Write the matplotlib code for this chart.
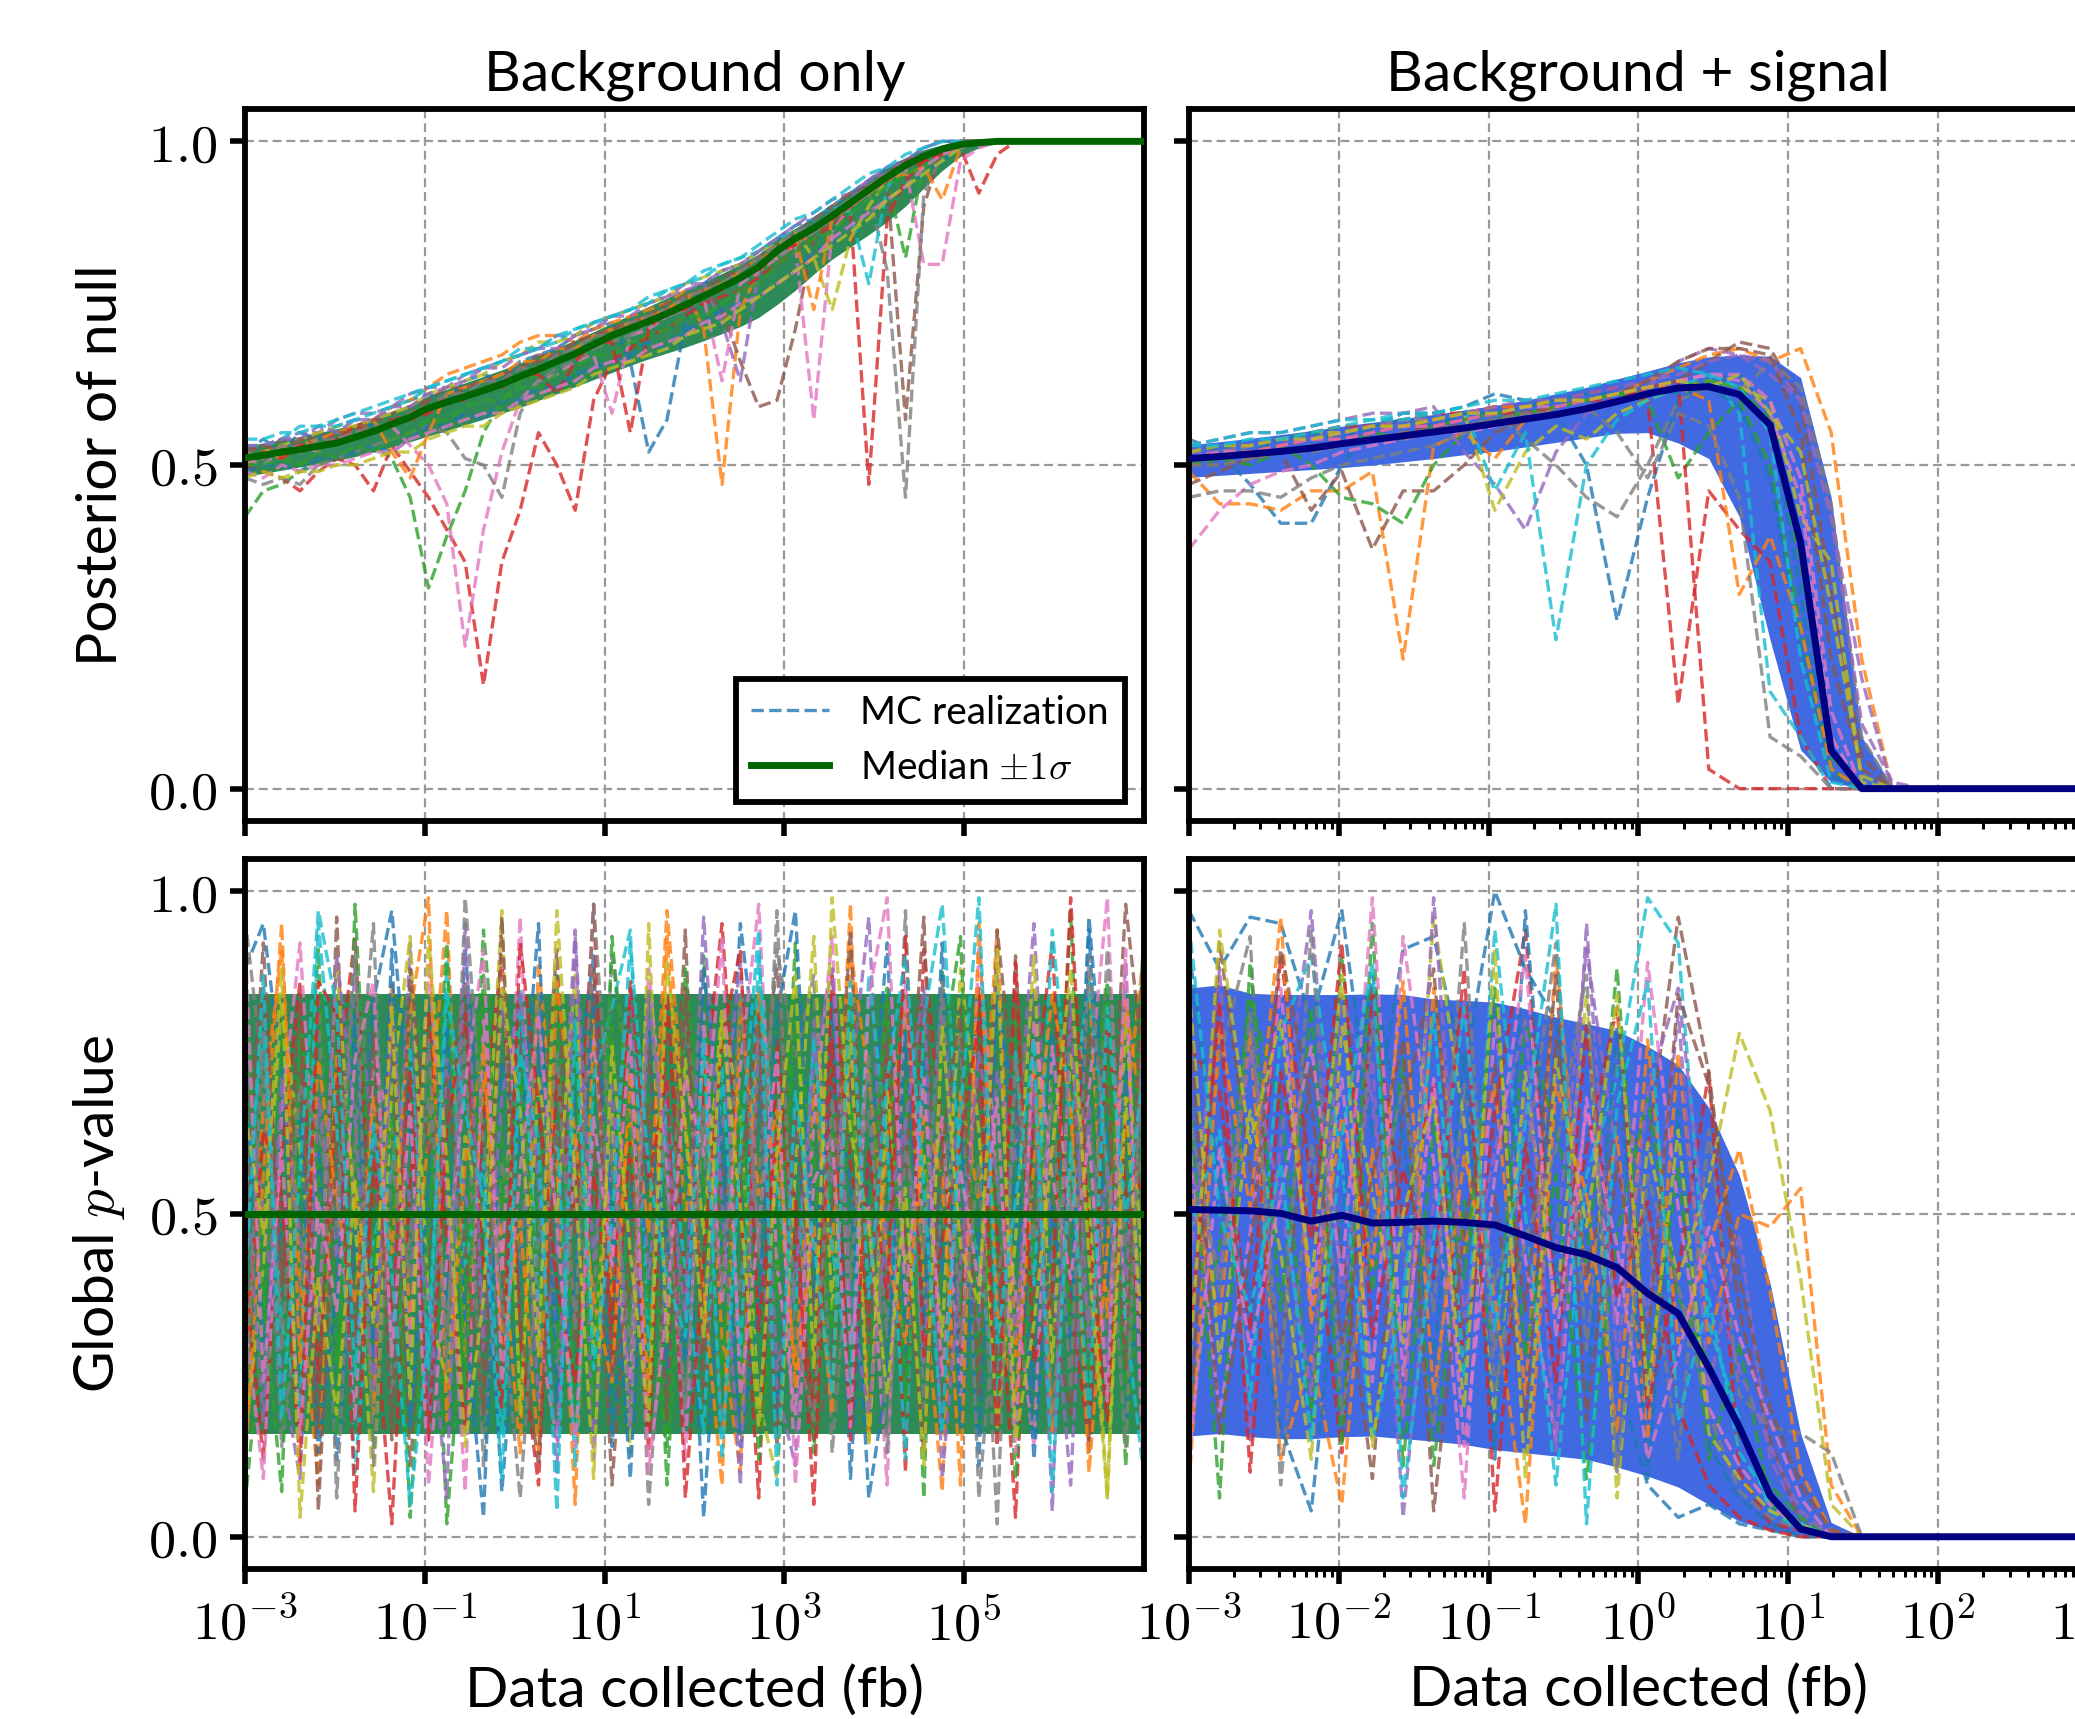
import numpy as np
import matplotlib
matplotlib.use("Agg")
import matplotlib.pyplot as plt
from matplotlib.lines import Line2D
from matplotlib.ticker import FixedLocator, LogLocator, NullLocator, FuncFormatter

# ---------------- data ----------------
# exposure grid, log10(fb)
log10_data = [-3.000, -2.796, -2.592, -2.388, -2.184, -1.980, -1.776, -1.571, -1.367, -1.163,
              -0.959, -0.755, -0.551, -0.347, -0.143, 0.061, 0.265, 0.469, 0.673, 0.878,
              1.082, 1.286, 1.490, 1.694, 1.898, 2.102, 2.306, 2.510, 2.714, 2.918,
              3.122, 3.327, 3.531, 3.735, 3.939, 4.143, 4.347, 4.551, 4.755, 4.959,
              5.163, 5.367, 5.571, 5.776, 5.980, 6.184, 6.388, 6.592, 6.796, 7.000]

# --- Background only: posterior of null ---
bg_post_median = [0.511, 0.515, 0.520, 0.524, 0.529, 0.534, 0.543, 0.552, 0.563, 0.574,
                  0.588, 0.597, 0.606, 0.615, 0.625, 0.637, 0.648, 0.660, 0.672, 0.686,
                  0.700, 0.711, 0.722, 0.734, 0.747, 0.761, 0.775, 0.789, 0.806, 0.831,
                  0.850, 0.866, 0.885, 0.905, 0.925, 0.945, 0.963, 0.977, 0.988, 0.995,
                  0.998, 1.0, 1.0, 1.0, 1.0, 1.0, 1.0, 1.0, 1.0, 1.0]
bg_post_upper = [0.529, 0.534, 0.539, 0.544, 0.550, 0.556, 0.563, 0.572, 0.582, 0.594,
                 0.607, 0.617, 0.627, 0.637, 0.647, 0.658, 0.669, 0.681, 0.693, 0.706,
                 0.719, 0.732, 0.745, 0.758, 0.771, 0.783, 0.796, 0.810, 0.826, 0.850,
                 0.866, 0.882, 0.900, 0.921, 0.942, 0.960, 0.975, 0.987, 0.995, 0.999,
                 1.0, 1.0, 1.0, 1.0, 1.0, 1.0, 1.0, 1.0, 1.0, 1.0]
bg_post_lower = [0.483, 0.487, 0.492, 0.497, 0.502, 0.507, 0.513, 0.520, 0.528, 0.536,
                 0.545, 0.553, 0.562, 0.571, 0.580, 0.589, 0.600, 0.610, 0.621, 0.632,
                 0.643, 0.654, 0.664, 0.673, 0.682, 0.692, 0.703, 0.714, 0.728, 0.748,
                 0.770, 0.795, 0.818, 0.837, 0.856, 0.876, 0.900, 0.928, 0.955, 0.977,
                 0.990, 0.997, 1.0, 1.0, 1.0, 1.0, 1.0, 1.0, 1.0, 1.0]
# MC realizations, percent
bg_post_mc = [
    [52, 54, 52, 55, 54, 56, 57, 56, 59, 60, 61, 60, 63, 64, 63, 66, 67, 68, 70, 71, 72, 66, 52, 57, 72, 78, 80, 81, 83, 85, 87, 88, 90, 92, 94, 96, 97, 99, 100, 100, 100, 100, 100, 100, 100, 100, 100, 100, 100, 100],
    [50, 52, 51, 53, 54, 55, 56, 57, 59, 60, 62, 64, 65, 66, 67, 69, 70, 70, 69, 71, 72, 73, 74, 75, 77, 71, 47, 74, 80, 82, 84, 86, 88, 90, 93, 95, 97, 98, 99, 100, 100, 100, 100, 100, 100, 100, 100, 100, 100, 100],
    [42, 46, 47, 49, 50, 51, 52, 53, 51, 45, 31, 39, 46, 55, 60, 63, 64, 66, 67, 68, 69, 71, 72, 74, 74, 76, 77, 79, 80, 82, 84, 86, 88, 90, 92, 94, 82, 97, 99, 100, 100, 100, 100, 100, 100, 100, 100, 100, 100, 100],
    [50, 49, 48, 46, 49, 51, 50, 46, 53, 49, 45, 40, 35, 16, 35, 43, 55, 50, 43, 60, 66, 68, 70, 71, 73, 75, 76, 77, 79, 81, 83, 85, 87, 89, 47, 88, 94, 97, 98, 99, 92, 98, 100, 100, 100, 100, 100, 100, 100, 100],
    [52, 53, 54, 55, 55, 57, 58, 58, 59, 61, 62, 62, 64, 65, 66, 67, 68, 70, 70, 72, 73, 74, 75, 76, 77, 78, 72, 63, 80, 83, 85, 87, 89, 91, 94, 95, 97, 98, 99, 100, 100, 100, 100, 100, 100, 100, 100, 100, 100, 100],
    [53, 52, 54, 53, 55, 54, 56, 57, 58, 59, 60, 62, 62, 63, 64, 65, 67, 67, 69, 70, 71, 72, 73, 74, 76, 77, 74, 66, 59, 60, 71, 85, 88, 90, 92, 94, 57, 90, 99, 100, 100, 100, 100, 100, 100, 100, 100, 100, 100, 100],
    [51, 50, 52, 53, 52, 54, 55, 55, 56, 53, 50, 44, 22, 40, 52, 60, 63, 64, 66, 67, 58, 70, 71, 73, 74, 76, 63, 78, 80, 82, 84, 57, 86, 90, 92, 94, 96, 81, 81, 97, 99, 100, 100, 100, 100, 100, 100, 100, 100, 100],
    [48, 47, 48, 47, 50, 51, 52, 53, 54, 55, 56, 55, 51, 50, 45, 58, 63, 65, 66, 68, 69, 70, 72, 73, 74, 76, 77, 79, 81, 82, 84, 86, 88, 90, 92, 80, 45, 92, 98, 99, 100, 100, 100, 100, 100, 100, 100, 100, 100, 100],
    [51, 52, 53, 54, 55, 56, 56, 57, 58, 59, 61, 62, 63, 64, 66, 67, 69, 69, 70, 72, 73, 74, 75, 76, 78, 79, 80, 81, 83, 84, 86, 82, 74, 85, 90, 94, 96, 98, 99, 100, 100, 100, 100, 100, 100, 100, 100, 100, 100, 100],
    [53, 53, 54, 56, 56, 57, 58, 59, 60, 61, 62, 63, 64, 65, 66, 68, 68, 70, 71, 72, 73, 74, 76, 77, 78, 80, 81, 82, 83, 85, 86, 88, 90, 89, 78, 93, 96, 98, 99, 100, 100, 100, 100, 100, 100, 100, 100, 100, 100, 100],
    [49, 50, 50, 49, 51, 51, 52, 53, 52, 54, 56, 56, 58, 57, 60, 60, 62, 62, 64, 65, 66, 67, 69, 68, 71, 72, 74, 75, 76, 78, 80, 83, 84, 87, 89, 91, 93, 95, 97, 99, 100, 100, 100, 100, 100, 100, 100, 100, 100, 100],
    [52, 51, 53, 52, 54, 55, 55, 57, 52, 48, 55, 61, 62, 63, 64, 66, 66, 68, 68, 70, 71, 72, 73, 74, 76, 77, 78, 80, 82, 83, 85, 74, 88, 90, 92, 94, 95, 96, 91, 99, 100, 100, 100, 100, 100, 100, 100, 100, 100, 100],
    [50, 50, 51, 50, 52, 51, 53, 52, 54, 55, 57, 57, 59, 60, 60, 62, 62, 64, 65, 67, 67, 69, 70, 71, 73, 73, 75, 77, 78, 81, 83, 85, 86, 89, 91, 93, 95, 96, 98, 100, 100, 100, 100, 100, 100, 100, 100, 100, 100, 100],
    [51, 52, 51, 53, 53, 54, 56, 55, 57, 57, 58, 60, 60, 62, 62, 64, 64, 61, 66, 69, 69, 55, 71, 74, 74, 76, 77, 79, 80, 83, 84, 87, 88, 90, 93, 94, 96, 97, 98, 100, 100, 100, 100, 100, 100, 100, 100, 100, 100, 100],
    [53, 53, 54, 54, 56, 55, 57, 57, 59, 59, 61, 62, 63, 65, 65, 67, 68, 68, 70, 71, 73, 73, 75, 76, 78, 78, 80, 81, 83, 85, 87, 89, 91, 92, 94, 96, 97, 99, 100, 100, 100, 100, 100, 100, 100, 100, 100, 100, 100, 100],
    [52, 53, 52, 54, 53, 55, 55, 57, 57, 58, 60, 60, 62, 63, 63, 65, 66, 67, 69, 70, 71, 72, 73, 75, 76, 77, 79, 80, 82, 84, 86, 88, 90, 92, 93, 95, 97, 98, 99, 100, 100, 100, 100, 100, 100, 100, 100, 100, 100, 100],
    [49, 48, 50, 49, 50, 50, 51, 52, 52, 54, 55, 56, 57, 58, 58, 60, 61, 62, 63, 65, 66, 66, 68, 69, 70, 72, 73, 75, 76, 78, 80, 82, 85, 87, 89, 91, 93, 96, 98, 99, 100, 100, 100, 100, 100, 100, 100, 100, 100, 100],
    [52, 51, 53, 52, 54, 54, 55, 56, 56, 58, 59, 61, 61, 63, 63, 65, 65, 67, 68, 70, 70, 72, 73, 74, 76, 77, 78, 80, 82, 84, 86, 87, 89, 91, 93, 95, 96, 98, 99, 100, 100, 100, 100, 100, 100, 100, 100, 100, 100, 100],
    [48, 49, 48, 49, 49, 50, 50, 51, 52, 52, 54, 55, 56, 56, 58, 59, 60, 61, 62, 64, 65, 66, 67, 68, 70, 71, 72, 74, 76, 78, 80, 82, 84, 86, 88, 91, 93, 95, 97, 99, 100, 100, 100, 100, 100, 100, 100, 100, 100, 100],
    [54, 54, 55, 55, 56, 56, 57, 58, 59, 60, 62, 63, 64, 65, 66, 67, 68, 69, 71, 72, 73, 74, 75, 77, 78, 79, 81, 82, 84, 86, 88, 89, 91, 93, 95, 96, 98, 99, 100, 100, 100, 100, 100, 100, 100, 100, 100, 100, 100, 100],
]

# --- Background + signal: posterior of null ---
sig_post_median = [0.510, 0.513, 0.517, 0.521, 0.526, 0.533, 0.539, 0.545, 0.551, 0.557,
                   0.564, 0.571, 0.578, 0.587, 0.598, 0.610, 0.619, 0.621, 0.609, 0.562,
                   0.380, 0.059, 0.0, 0.0, 0.0, 0.0, 0.0, 0.0, 0.0, 0.0, 0.0]
sig_post_upper = [0.531, 0.536, 0.541, 0.547, 0.553, 0.560, 0.566, 0.572, 0.578, 0.585,
                  0.592, 0.600, 0.610, 0.620, 0.633, 0.645, 0.658, 0.667, 0.670, 0.668,
                  0.635, 0.450, 0.080, 0.003, 0.0, 0.0, 0.0, 0.0, 0.0, 0.0, 0.0]
sig_post_lower = [0.481, 0.484, 0.487, 0.490, 0.493, 0.496, 0.500, 0.505, 0.510, 0.516,
                  0.521, 0.528, 0.535, 0.542, 0.549, 0.550, 0.534, 0.510, 0.420, 0.230,
                  0.060, 0.010, 0.0, 0.0, 0.0, 0.0, 0.0, 0.0, 0.0, 0.0, 0.0]
sig_post_mc = [
    [54, 52, 47, 41, 41, 50, 56, 58, 58, 59, 61, 60, 58, 50, 26, 45, 60, 63, 64, 58, 30, 2, 0, 0, 0, 0, 0, 0, 0, 0, 0],
    [49, 44, 44, 43, 46, 46, 49, 20, 53, 55, 51, 57, 59, 60, 61, 63, 65, 67, 68, 66, 68, 55, 20, 0, 0, 0, 0, 0, 0, 0, 0],
    [50, 51, 52, 53, 50, 45, 44, 41, 50, 55, 57, 58, 59, 60, 61, 60, 48, 55, 60, 50, 25, 3, 0, 0, 0, 0, 0, 0, 0, 0, 0],
    [52, 53, 53, 54, 55, 56, 56, 57, 58, 58, 59, 59, 60, 61, 62, 60, 13, 46, 40, 35, 8, 0, 0, 0, 0, 0, 0, 0, 0, 0, 0],
    [53, 54, 55, 55, 56, 57, 58, 58, 59, 52, 47, 40, 52, 58, 60, 62, 66, 68, 67, 64, 60, 42, 17, 0, 0, 0, 0, 0, 0, 0, 0],
    [47, 49, 51, 52, 43, 49, 37, 46, 46, 50, 55, 57, 58, 59, 60, 62, 63, 66, 69, 68, 60, 30, 5, 0, 0, 0, 0, 0, 0, 0, 0],
    [37, 43, 47, 49, 50, 52, 53, 54, 55, 55, 56, 57, 58, 59, 60, 62, 63, 64, 63, 58, 45, 8, 0, 0, 0, 0, 0, 0, 0, 0, 0],
    [45, 46, 46, 45, 48, 50, 51, 52, 53, 55, 58, 54, 50, 45, 42, 50, 60, 62, 61, 66, 62, 44, 8, 0, 0, 0, 0, 0, 0, 0, 0],
    [51, 52, 53, 54, 55, 55, 56, 57, 57, 58, 43, 52, 56, 54, 58, 60, 62, 63, 62, 60, 42, 35, 1, 0, 0, 0, 0, 0, 0, 0, 0],
    [53, 54, 55, 55, 56, 57, 57, 58, 58, 59, 46, 55, 23, 50, 57, 60, 62, 64, 58, 15, 8, 0, 0, 0, 0, 0, 0, 0, 0, 0, 0],
    [52, 53, 52, 54, 55, 54, 56, 57, 56, 58, 58, 59, 60, 61, 61, 62, 61, 62, 59, 48, 22, 2, 0, 0, 0, 0, 0, 0, 0, 0, 0],
    [51, 52, 52, 53, 54, 55, 56, 56, 57, 58, 59, 59, 60, 60, 61, 62, 62, 60, 30, 39, 25, 3, 0, 0, 0, 0, 0, 0, 0, 0, 0],
    [50, 51, 50, 52, 53, 53, 55, 54, 56, 57, 58, 58, 59, 60, 61, 61, 62, 63, 62, 57, 35, 5, 0, 0, 0, 0, 0, 0, 0, 0, 0],
    [51, 51, 52, 53, 54, 54, 55, 56, 56, 57, 58, 58, 59, 60, 60, 62, 63, 3, 0, 0, 0, 0, 0, 0, 0, 0, 0, 0, 0, 0, 0],
    [52, 52, 53, 54, 54, 55, 56, 57, 57, 58, 59, 60, 60, 61, 62, 63, 64, 66, 67, 66, 60, 42, 10, 1, 0, 0, 0, 0, 0, 0, 0],
    [50, 50, 51, 52, 53, 53, 54, 55, 56, 56, 57, 58, 59, 60, 61, 63, 66, 68, 68, 67, 55, 20, 3, 0, 0, 0, 0, 0, 0, 0, 0],
    [51, 52, 52, 53, 54, 54, 55, 56, 56, 57, 58, 59, 59, 60, 61, 62, 63, 64, 64, 60, 48, 12, 0, 0, 0, 0, 0, 0, 0, 0, 0],
    [50, 50, 51, 52, 52, 53, 54, 55, 55, 56, 57, 58, 58, 59, 55, 48, 58, 56, 45, 8, 5, 0, 0, 0, 0, 0, 0, 0, 0, 0, 0],
    [52, 53, 53, 54, 54, 55, 56, 56, 57, 58, 58, 59, 60, 60, 61, 62, 63, 62, 64, 58, 52, 28, 2, 0, 0, 0, 0, 0, 0, 0, 0],
    [53, 53, 54, 54, 55, 56, 57, 57, 58, 59, 60, 60, 61, 62, 63, 64, 65, 64, 62, 55, 20, 1, 0, 0, 0, 0, 0, 0, 0, 0, 0],
]

# --- Background only: global p-value ---
bg_pval_median = 0.50
bg_pval_upper = 0.841
bg_pval_lower = 0.159
bg_pval_mc = [
    [88, 95, 72, 31, 60, 12, 45, 83, 97, 64, 20, 38, 91, 55, 7, 42, 76, 33, 68, 90, 14, 52, 81, 26, 59, 3, 47, 95, 71, 18, 63, 36, 84, 9, 57, 92, 29, 74, 41, 66, 11, 87, 50, 23, 78, 35, 96, 61, 17, 44],
    [23, 67, 91, 40, 8, 75, 54, 19, 86, 33, 62, 97, 28, 71, 46, 13, 89, 58, 5, 80, 37, 66, 22, 93, 49, 74, 31, 10, 85, 57, 26, 70, 44, 98, 15, 62, 83, 39, 7, 69, 52, 94, 28, 73, 16, 58, 87, 34, 65, 91],
    [5, 34, 78, 52, 91, 27, 63, 14, 48, 85, 70, 2, 39, 94, 61, 25, 53, 87, 16, 42, 79, 31, 68, 8, 56, 90, 44, 21, 75, 37, 92, 13, 60, 83, 28, 49, 71, 6, 88, 35, 57, 19, 82, 64, 40, 97, 24, 73, 11, 55],
    [41, 12, 59, 86, 24, 70, 93, 37, 2, 55, 81, 46, 17, 65, 90, 31, 8, 72, 49, 98, 26, 61, 13, 84, 38, 69, 95, 52, 6, 77, 43, 20, 87, 58, 33, 74, 10, 91, 62, 29, 85, 47, 3, 68, 92, 36, 15, 79, 54, 27],
    [77, 50, 26, 9, 68, 43, 88, 61, 31, 92, 15, 74, 53, 36, 82, 67, 21, 45, 94, 12, 59, 85, 40, 71, 18, 33, 63, 89, 46, 23, 11, 80, 55, 70, 96, 38, 64, 27, 84, 50, 32, 72, 58, 95, 42, 8, 67, 26, 89, 13],
    [62, 85, 40, 73, 17, 96, 29, 52, 79, 11, 44, 67, 86, 24, 35, 78, 57, 91, 30, 63, 8, 47, 76, 39, 94, 21, 58, 34, 69, 88, 50, 15, 27, 73, 42, 83, 56, 96, 19, 44, 71, 25, 90, 37, 60, 81, 13, 48, 98, 72],
    [34, 9, 66, 92, 47, 55, 18, 74, 63, 29, 89, 53, 7, 80, 41, 96, 32, 15, 60, 77, 45, 24, 88, 57, 12, 81, 36, 73, 98, 42, 19, 64, 93, 30, 51, 8, 86, 47, 65, 22, 91, 56, 38, 14, 76, 49, 69, 99, 31, 84],
    [96, 71, 14, 38, 83, 6, 61, 95, 22, 47, 68, 32, 77, 11, 58, 43, 84, 26, 53, 35, 90, 69, 5, 45, 79, 62, 17, 40, 56, 91, 74, 87, 13, 49, 66, 31, 97, 20, 53, 78, 6, 39, 62, 85, 18, 53, 33, 91, 45, 60],
    [15, 42, 83, 60, 32, 89, 49, 7, 70, 93, 36, 24, 62, 48, 97, 19, 71, 50, 87, 28, 66, 13, 95, 30, 74, 47, 82, 65, 21, 9, 57, 93, 35, 78, 14, 69, 42, 59, 31, 88, 63, 17, 46, 90, 27, 75, 52, 6, 81, 37],
    [52, 78, 33, 20, 95, 64, 10, 46, 57, 76, 26, 89, 42, 58, 16, 85, 37, 63, 11, 71, 82, 94, 29, 67, 41, 16, 73, 28, 90, 54, 35, 77, 45, 23, 87, 61, 12, 80, 98, 56, 43, 21, 75, 39, 94, 64, 86, 57, 34, 9],
    [70, 29, 48, 65, 13, 38, 81, 26, 91, 17, 54, 79, 34, 3, 73, 60, 95, 21, 39, 84, 51, 9, 63, 46, 27, 88, 61, 14, 36, 81, 97, 42, 70, 55, 6, 25, 78, 33, 92, 17, 48, 83, 66, 12, 51, 29, 94, 39, 72, 20],
    [11, 56, 95, 27, 74, 52, 36, 68, 44, 81, 99, 18, 58, 76, 30, 49, 13, 86, 62, 37, 24, 72, 47, 97, 64, 38, 8, 83, 53, 66, 23, 48, 19, 91, 71, 44, 30, 65, 56, 8, 95, 35, 21, 58, 84, 67, 10, 45, 83, 63],
    [84, 37, 7, 79, 56, 16, 98, 42, 65, 3, 48, 92, 23, 87, 51, 72, 40, 28, 76, 19, 93, 61, 35, 14, 88, 55, 25, 69, 12, 41, 80, 58, 32, 67, 44, 85, 21, 53, 74, 93, 26, 60, 9, 48, 71, 33, 56, 86, 22, 95],
    [28, 63, 53, 11, 86, 81, 4, 59, 35, 72, 15, 63, 81, 42, 20, 92, 67, 39, 24, 56, 33, 86, 55, 71, 6, 43, 77, 91, 32, 63, 52, 5, 77, 15, 60, 37, 93, 28, 46, 61, 80, 14, 89, 27, 38, 99, 46, 18, 64, 51],
    [58, 18, 71, 46, 33, 90, 65, 22, 79, 51, 38, 6, 95, 29, 68, 84, 55, 10, 93, 43, 70, 17, 82, 61, 34, 96, 52, 8, 78, 26, 40, 73, 88, 37, 19, 50, 64, 85, 9, 42, 75, 55, 31, 70, 4, 83, 29, 57, 40, 76],
    [45, 92, 37, 84, 4, 61, 30, 78, 15, 88, 59, 71, 45, 19, 96, 33, 11, 64, 47, 88, 25, 38, 67, 18, 85, 29, 43, 56, 81, 14, 66, 35, 50, 94, 30, 77, 47, 13, 60, 82, 22, 94, 67, 51, 35, 19, 78, 70, 26, 95],
    [93, 24, 60, 16, 52, 35, 74, 86, 28, 67, 8, 43, 70, 91, 24, 57, 81, 48, 14, 65, 42, 78, 10, 36, 71, 59, 93, 22, 48, 75, 8, 55, 62, 17, 84, 99, 36, 71, 25, 57, 39, 68, 13, 80, 56, 40, 62, 21, 91, 5],
    [19, 80, 29, 70, 63, 48, 92, 11, 58, 40, 77, 26, 99, 61, 37, 6, 46, 75, 32, 98, 58, 29, 85, 53, 20, 67, 38, 84, 44, 97, 31, 18, 68, 40, 75, 13, 60, 44, 86, 30, 58, 2, 74, 46, 67, 23, 90, 56, 14, 82],
    [66, 47, 88, 3, 40, 19, 55, 33, 82, 21, 93, 58, 14, 37, 85, 66, 28, 97, 55, 9, 76, 44, 18, 89, 63, 31, 80, 51, 17, 60, 87, 26, 99, 63, 48, 22, 54, 11, 79, 45, 36, 91, 15, 33, 60, 88, 43, 6, 68, 27],
    [39, 87, 18, 57, 97, 82, 25, 64, 41, 5, 31, 84, 66, 52, 9, 75, 61, 4, 80, 26, 49, 92, 57, 40, 31, 77, 12, 60, 94, 8, 69, 45, 22, 86, 37, 71, 90, 54, 16, 66, 99, 30, 52, 77, 7, 61, 18, 82, 49, 73],
]

# --- Background + signal: global p-value ---
sig_pval_median = [0.507, 0.506, 0.505, 0.501, 0.489, 0.498, 0.486, 0.487, 0.489, 0.487,
                   0.483, 0.466, 0.448, 0.437, 0.417, 0.377, 0.346, 0.262, 0.170, 0.064,
                   0.012, 0.0, 0.0, 0.0, 0.0, 0.0, 0.0, 0.0, 0.0, 0.0, 0.0]
sig_pval_upper = [0.850, 0.855, 0.842, 0.840, 0.840, 0.840, 0.841, 0.840, 0.833, 0.831,
                  0.828, 0.818, 0.805, 0.795, 0.784, 0.760, 0.731, 0.665, 0.560, 0.393,
                  0.160, 0.022, 0.0, 0.0, 0.0, 0.0, 0.0, 0.0, 0.0, 0.0, 0.0]
sig_pval_lower = [0.156, 0.160, 0.155, 0.152, 0.152, 0.155, 0.156, 0.152, 0.148, 0.143,
                  0.135, 0.130, 0.125, 0.120, 0.108, 0.094, 0.077, 0.050, 0.024, 0.010,
                  0.003, 0.0, 0.0, 0.0, 0.0, 0.0, 0.0, 0.0, 0.0, 0.0, 0.0]
sig_pval_mc = [
    [97, 88, 96, 95, 80, 97, 62, 91, 93, 72, 100, 88, 80, 47, 25, 8, 3, 5, 2, 1, 0, 0, 0, 0, 0, 0, 0, 0, 0, 0, 0],
    [55, 34, 78, 12, 28, 5, 60, 19, 85, 44, 70, 22, 90, 38, 62, 15, 75, 30, 50, 48, 54, 8, 0, 0, 0, 0, 0, 0, 0, 0, 0],
    [20, 45, 83, 67, 18, 90, 38, 74, 11, 52, 29, 80, 63, 42, 88, 25, 57, 12, 30, 5, 1, 0, 0, 0, 0, 0, 0, 0, 0, 0, 0],
    [76, 69, 32, 90, 55, 13, 85, 48, 70, 27, 66, 94, 36, 60, 82, 20, 41, 72, 10, 2, 1, 0, 0, 0, 0, 0, 0, 0, 0, 0, 0],
    [40, 88, 15, 61, 97, 36, 74, 3, 52, 83, 29, 67, 45, 91, 58, 34, 81, 23, 47, 12, 3, 0, 0, 0, 0, 0, 0, 0, 0, 0, 0],
    [14, 92, 57, 28, 73, 45, 9, 66, 88, 31, 53, 18, 77, 40, 64, 60, 96, 72, 35, 15, 2, 0, 0, 0, 0, 0, 0, 0, 0, 0, 0],
    [62, 19, 47, 85, 36, 71, 24, 93, 58, 6, 80, 43, 15, 68, 33, 89, 51, 20, 11, 5, 1, 0, 0, 0, 0, 0, 0, 0, 0, 0, 0],
    [33, 74, 93, 8, 61, 26, 80, 45, 17, 70, 39, 57, 92, 29, 75, 48, 12, 63, 22, 17, 16, 13, 0, 0, 0, 0, 0, 0, 0, 0, 0],
    [85, 27, 66, 44, 12, 79, 53, 30, 96, 64, 18, 72, 35, 84, 6, 61, 40, 55, 78, 66, 40, 5, 0, 0, 0, 0, 0, 0, 0, 0, 0],
    [47, 63, 21, 78, 90, 58, 15, 37, 81, 25, 94, 50, 8, 56, 71, 99, 92, 33, 18, 4, 1, 0, 0, 0, 0, 0, 0, 0, 0, 0, 0],
    [91, 54, 38, 17, 4, 49, 87, 62, 27, 75, 12, 97, 41, 22, 79, 9, 66, 14, 6, 2, 0, 0, 0, 0, 0, 0, 0, 0, 0, 0, 0],
    [8, 79, 51, 96, 33, 65, 42, 86, 22, 59, 37, 2, 70, 53, 16, 77, 30, 45, 60, 38, 10, 1, 0, 0, 0, 0, 0, 0, 0, 0, 0],
    [70, 6, 89, 35, 82, 14, 95, 11, 64, 40, 85, 28, 56, 9, 47, 68, 37, 27, 16, 8, 3, 0, 0, 0, 0, 0, 0, 0, 0, 0, 0],
    [29, 83, 10, 72, 46, 92, 31, 57, 40, 88, 4, 61, 24, 79, 37, 52, 20, 8, 3, 1, 0, 0, 0, 0, 0, 0, 0, 0, 0, 0, 0],
    [58, 41, 75, 52, 22, 84, 68, 18, 99, 34, 60, 80, 13, 95, 27, 69, 85, 42, 26, 14, 4, 0, 0, 0, 0, 0, 0, 0, 0, 0, 0],
    [82, 16, 44, 91, 67, 30, 56, 77, 4, 48, 73, 35, 87, 18, 58, 30, 84, 70, 40, 20, 8, 1, 0, 0, 0, 0, 0, 0, 0, 0, 0],
    [12, 60, 29, 53, 76, 40, 99, 25, 71, 14, 56, 90, 31, 66, 45, 12, 28, 48, 31, 18, 6, 0, 0, 0, 0, 0, 0, 0, 0, 0, 0],
    [66, 38, 81, 24, 94, 19, 47, 70, 35, 95, 23, 46, 60, 87, 10, 56, 39, 19, 7, 3, 1, 0, 0, 0, 0, 0, 0, 0, 0, 0, 0],
    [25, 94, 61, 80, 39, 87, 14, 50, 68, 20, 91, 9, 74, 48, 84, 22, 63, 16, 9, 4, 2, 0, 0, 0, 0, 0, 0, 0, 0, 0, 0],
    [95, 50, 35, 58, 15, 62, 89, 6, 46, 82, 32, 64, 98, 2, 67, 86, 18, 37, 13, 6, 2, 0, 0, 0, 0, 0, 0, 0, 0, 0, 0],
]

titles = ["Background only", "Background + signal"]
ylabels = ["Posterior of null", "Global $p$-value"]
xlabel = "Data collected (fb)"
legend_labels = ["MC realization", r"Median $\pm1\sigma$"]

# ---------------- styling ----------------
plt.rcParams.update({
    "font.family": ["Lato", "DejaVu Sans"],
    "mathtext.fontset": "cm",
})
FS = 41
TICK_FS = 39
MC_LW = 2.4
MED_LW = 5.0
cycle = plt.rcParams["axes.prop_cycle"].by_key()["color"]

FIG_W, FIG_H = 2075, 1719
fig = plt.figure(figsize=(FIG_W / 100, FIG_H / 100), dpi=100)


def box(l, t, r, b):
    return [l / FIG_W, 1 - b / FIG_H, (r - l) / FIG_W, (b - t) / FIG_H]


ax_tl = fig.add_axes(box(245, 109, 1144, 821))
ax_tr = fig.add_axes(box(1189, 109, 2088, 821))
ax_bl = fig.add_axes(box(245, 859, 1144, 1569))
ax_br = fig.add_axes(box(1189, 859, 2088, 1569))

x = 10 ** np.asarray(log10_data)


def as_series(v, n):
    if np.ndim(v) == 0:
        return np.full(n, float(v))
    return np.asarray(v[:n], dtype=float)


def draw(ax, mc, med, lo, hi, band_color, med_color):
    n = len(med) if np.ndim(med) else len(x)
    n = min(n, len(x))
    xs = x[:n]
    ax.fill_between(xs, as_series(lo, n), as_series(hi, n), color=band_color, lw=0, zorder=1)
    for i, v in enumerate(mc):
        m = min(len(v), len(x))
        ax.plot(x[:m], np.asarray(v[:m]) / 100.0, ls="--", lw=MC_LW, alpha=0.8,
                color=cycle[i % 10], zorder=2)
    ax.plot(xs, as_series(med, n), color=med_color, lw=MED_LW, zorder=3)


draw(ax_tl, bg_post_mc, bg_post_median, bg_post_lower, bg_post_upper, "seagreen", "darkgreen")
draw(ax_tr, sig_post_mc, sig_post_median, sig_post_lower, sig_post_upper, "royalblue", "navy")
draw(ax_bl, bg_pval_mc, bg_pval_median, bg_pval_lower, bg_pval_upper, "seagreen", "darkgreen")
draw(ax_br, sig_pval_mc, sig_pval_median, sig_pval_lower, sig_pval_upper, "royalblue", "navy")

logfmt = FuncFormatter(lambda v, p: r"$10^{%d}$" % int(round(np.log10(v))))
yfmt = FuncFormatter(lambda v, p: r"$%.1f$" % v)

for ax in (ax_tl, ax_tr, ax_bl, ax_br):
    ax.set_xscale("log")
    ax.set_ylim(-0.05, 1.05)
    ax.yaxis.set_major_locator(FixedLocator([0.0, 0.5, 1.0]))
    ax.yaxis.set_major_formatter(yfmt)
    ax.set_axisbelow(True)
    ax.grid(True, which="major", color="#999999", ls=(0, (4, 2.2)), lw=1.6)
    for s in ax.spines.values():
        s.set_linewidth(4.2)
    ax.tick_params(which="major", length=11, width=4, labelsize=TICK_FS, pad=9)
    ax.tick_params(which="minor", length=6, width=2.2)

for ax in (ax_tl, ax_bl):
    ax.set_xlim(1e-3, 1e7)
    ax.xaxis.set_major_locator(FixedLocator([1e-3, 1e-1, 1e1, 1e3, 1e5]))
    ax.xaxis.set_minor_locator(NullLocator())
    ax.xaxis.set_major_formatter(logfmt)
for ax in (ax_tr, ax_br):
    ax.set_xlim(1e-3, 1e3)
    ax.xaxis.set_major_locator(FixedLocator([1e-3, 1e-2, 1e-1, 1e0, 1e1, 1e2, 1e3]))
    ax.xaxis.set_minor_locator(LogLocator(base=10, subs=np.arange(2, 10), numticks=100))
    ax.xaxis.set_major_formatter(logfmt)

ax_tl.tick_params(labelbottom=False)
ax_tr.tick_params(labelbottom=False, labelleft=False)
ax_br.tick_params(labelleft=False)

ax_tl.set_title(titles[0], fontsize=FS, pad=13)
ax_tr.set_title(titles[1], fontsize=FS, pad=13)
ax_tl.set_ylabel(ylabels[0], fontsize=FS, labelpad=15)
ax_bl.set_ylabel(ylabels[1], fontsize=FS, labelpad=15)
ax_bl.set_xlabel(xlabel, fontsize=FS, labelpad=11)
ax_br.set_xlabel(xlabel, fontsize=FS, labelpad=11)

handles = [Line2D([], [], color=cycle[0], ls="--", lw=MC_LW, alpha=0.8),
           Line2D([], [], color="darkgreen", lw=MED_LW)]
leg = ax_tl.legend(handles, legend_labels, loc="lower right", fontsize=28, frameon=True,
                   fancybox=False, framealpha=1, edgecolor="black", borderaxespad=0.5)
leg.get_frame().set_linewidth(4.2)

fig.savefig("out.png", dpi=100)
